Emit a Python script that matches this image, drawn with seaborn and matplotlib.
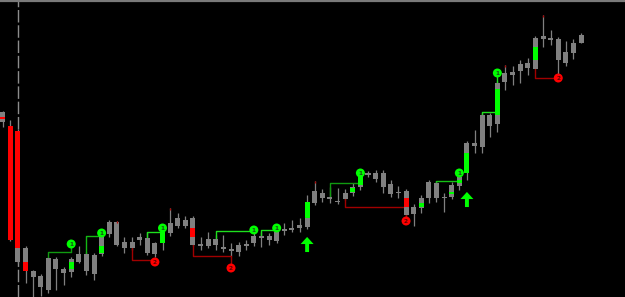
import numpy as np
import pandas as pd
import seaborn as sns
import matplotlib
matplotlib.use("Agg")
import matplotlib.pyplot as plt
from matplotlib.path import Path

# ---------------- data (price units) ----------------
body_top = [188, 174, 169, 52, 29, 24, 42, 41, 31, 41, 46, 46, 45, 65, 78, 78, 58, 58, 63, 62,
            57, 68, 77, 82, 80, 82, 56, 61, 61, 53, 51, 55, 56, 64, 64, 64, 68, 71, 72, 75,
            98, 109, 107, 103, 99, 107, 113, 128, 127, 127, 127, 116, 108, 109, 93, 102, 118, 117, 103, 115,
            123, 157, 157, 185, 185, 217, 227, 228, 236, 237, 262, 264, 262, 261, 248, 257, 265]
body_bot = [178, 60, 38, 29, 23, 13, 10, 31, 27, 28, 38, 29, 26, 46, 66, 55, 52, 52, 60, 47,
            46, 57, 67, 74, 74, 55, 54, 54, 55, 51, 49, 48, 54, 57, 62, 60, 59, 69, 70, 72,
            73, 97, 102, 101, 98, 101, 107, 113, 125, 121, 113, 106, 107, 85, 86, 92, 102, 102, 102, 103,
            114, 127, 154, 153, 174, 176, 218, 225, 229, 232, 231, 261, 260, 240, 237, 247, 257]
high = [189, 180, 171, 54, 30, 26, 43, 43, 33, 43, 54, 48, 47, 68, 80, 79, 63, 63, 67, 68,
        58, 69, 92, 87, 84, 84, 63, 68, 65, 65, 57, 58, 60, 67, 68, 67, 71, 77, 80, 82,
        105, 119, 111, 113, 112, 111, 117, 130, 129, 130, 130, 120, 114, 111, 96, 105, 120, 119, 107, 118,
        126, 159, 170, 187, 187, 219, 235, 234, 240, 242, 264, 285, 270, 263, 259, 261, 267]
low = [173, 59, 37, 17, 3, 4, 7, 10, 15, 23, 37, 25, 20, 44, 63, 54, 47, 50, 55, 45,
       43, 50, 64, 72, 72, 54, 50, 52, 50, 48, 44, 44, 50, 54, 53, 55, 57, 65, 68, 68,
       71, 95, 98, 97, 96, 100, 104, 110, 123, 118, 107, 103, 102, 84, 74, 87, 97, 98, 88, 101,
       110, 120, 147, 147, 163, 168, 210, 215, 217, 225, 231, 253, 255, 226, 234, 241, 257]

# coloured body segments: candle index, colour, upper, lower
seg_idx = [0, 1, 2, 3, 9, 13, 21, 25, 40, 46, 47, 53, 55, 59, 60, 61, 65, 70]
seg_col = ["r", "r", "r", "r", "g", "g", "g", "r", "g", "g", "g", "r", "g", "g", "g", "g", "g", "g"]
seg_hi = [183, 174, 169, 38, 38, 54, 68, 72, 98, 112, 128, 102, 97, 108, 120, 147, 211, 253]
seg_lo = [181, 60, 52, 29, 31, 47, 57, 63, 82, 108, 115, 93, 93, 106, 117, 127, 185, 240]

# breakout levels (green = resistance, red = support)
g_start = [6, 11, 19, 28, 34, 43, 57, 63]
g_end = [9, 13, 21, 33, 36, 47, 60, 65]
g_level = [48, 64, 68, 69, 70, 117, 119, 188]
g_mark = [56, 67, 72, 70, 72, 127, 127, 227]
g_shade = ["#109a10", "#14b814", "#1ee01e", "#1ee01e", "#1ee01e", "#109a10", "#14c014", "#1ee01e"]

r_start = [17, 25, 45, 70]
r_end = [20, 30, 53, 73]
r_level = [40, 44, 93, 222]
r_mark = [38, 32, 79, 222]

arrow_idx = [40, 61]
arrow_tip = [63, 108]
tick_idx = [15, 22, 41, 66, 71]
marker_line_idx = 2

# ---------------- style ----------------
sns.set_theme(style="dark", rc={"axes.facecolor": "black", "figure.facecolor": "black"})
plt.rcParams["font.family"] = ["DejaVu Sans"]

GRAY = "#808080"
GREEN = "#00ff00"
RED = "#ff0000"

fig = plt.figure(figsize=(6.25, 2.97), dpi=100)
ax = fig.add_axes([0, 0, 1, 1])
ax.set_facecolor("black")

n = len(body_top)
x = np.arange(n)
df = pd.DataFrame({"x": x, "top": body_top, "bot": body_bot, "high": high, "low": low})

W = 0.66
# wicks
ax.vlines(df["x"], df["low"], df["high"], color=GRAY, lw=0.9, zorder=2)
# bodies
heights = np.maximum(df["top"] - df["bot"], 1.2)
ax.bar(df["x"], heights, bottom=df["bot"], width=W, color=GRAY, edgecolor="none", zorder=3)
# coloured segments
for i, c, hi, lo in zip(seg_idx, seg_col, seg_hi, seg_lo):
    ax.bar(i, hi - lo, bottom=lo, width=W, color=GREEN if c == "g" else RED,
           edgecolor="none", zorder=4)
# red wick tips
for i in tick_idx:
    ax.vlines(i, high[i] - 1.5, high[i], color="#b00000", lw=0.9, zorder=3)

# dashed marker line
ax.axvline(marker_line_idx, color="#8c8c8c", lw=1.0, ls=(0, (9, 2)), zorder=1)
# top border
ax.axhline(299.2, color="#7a7a7a", lw=1.6, zorder=6)

# green levels
for s, e, lv, mk, col in zip(g_start, g_end, g_level, g_mark, g_shade):
    ax.plot([s, s, e], [body_top[s], lv, lv], color=col, lw=1.0, zorder=2.5)
    ax.plot([e, e], [lv, mk], color=col, lw=1.0, zorder=2.5)
# red levels
for s, e, lv, mk in zip(r_start, r_end, r_level, r_mark):
    ax.plot([s, s, e], [body_bot[s], lv, lv], color="#a00000", lw=1.0, zorder=2.5)
    ax.plot([e, e], [lv, mk], color="#a00000", lw=1.0, zorder=2.5)

marks = pd.DataFrame({
    "x": list(g_end) + list(r_end),
    "y": list(g_mark) + list(r_mark),
    "kind": ["g"] * len(g_end) + ["r"] * len(r_end),
})
sns.scatterplot(data=marks, x="x", y="y", hue="kind", palette={"g": GREEN, "r": RED},
                s=42, edgecolor="none", legend=False, ax=ax, zorder=7)
for _, row in marks.iterrows():
    ax.text(row["x"], row["y"] - 0.3, "1" if row["kind"] == "g" else "2",
            fontsize=4.2, color="#1a4a1a" if row["kind"] == "g" else "#5a0000",
            ha="center", va="center", fontweight="bold", zorder=8)

# up arrows
verts = [(-0.13, -0.5), (0.13, -0.5), (0.13, 0.03), (0.43, 0.03), (0.0, 0.5),
         (-0.43, 0.03), (-0.13, 0.03), (-0.13, -0.5)]
arrow_path = Path(verts, [Path.MOVETO] + [Path.LINETO] * 6 + [Path.CLOSEPOLY])
arr = pd.DataFrame({"x": arrow_idx, "y": np.array(arrow_tip) - 7.5})
sns.scatterplot(data=arr, x="x", y="y", marker=arrow_path, s=118, color=GREEN,
                edgecolor="none", legend=False, ax=ax, zorder=7)

ax.set_xlim(-0.355, 81.77)
ax.set_ylim(3, 300)
ax.set_xticks([])
ax.set_yticks([])
ax.set_xlabel("")
ax.set_ylabel("")
for sp in ax.spines.values():
    sp.set_visible(False)

fig.savefig("out.png", dpi=100, facecolor="black")
